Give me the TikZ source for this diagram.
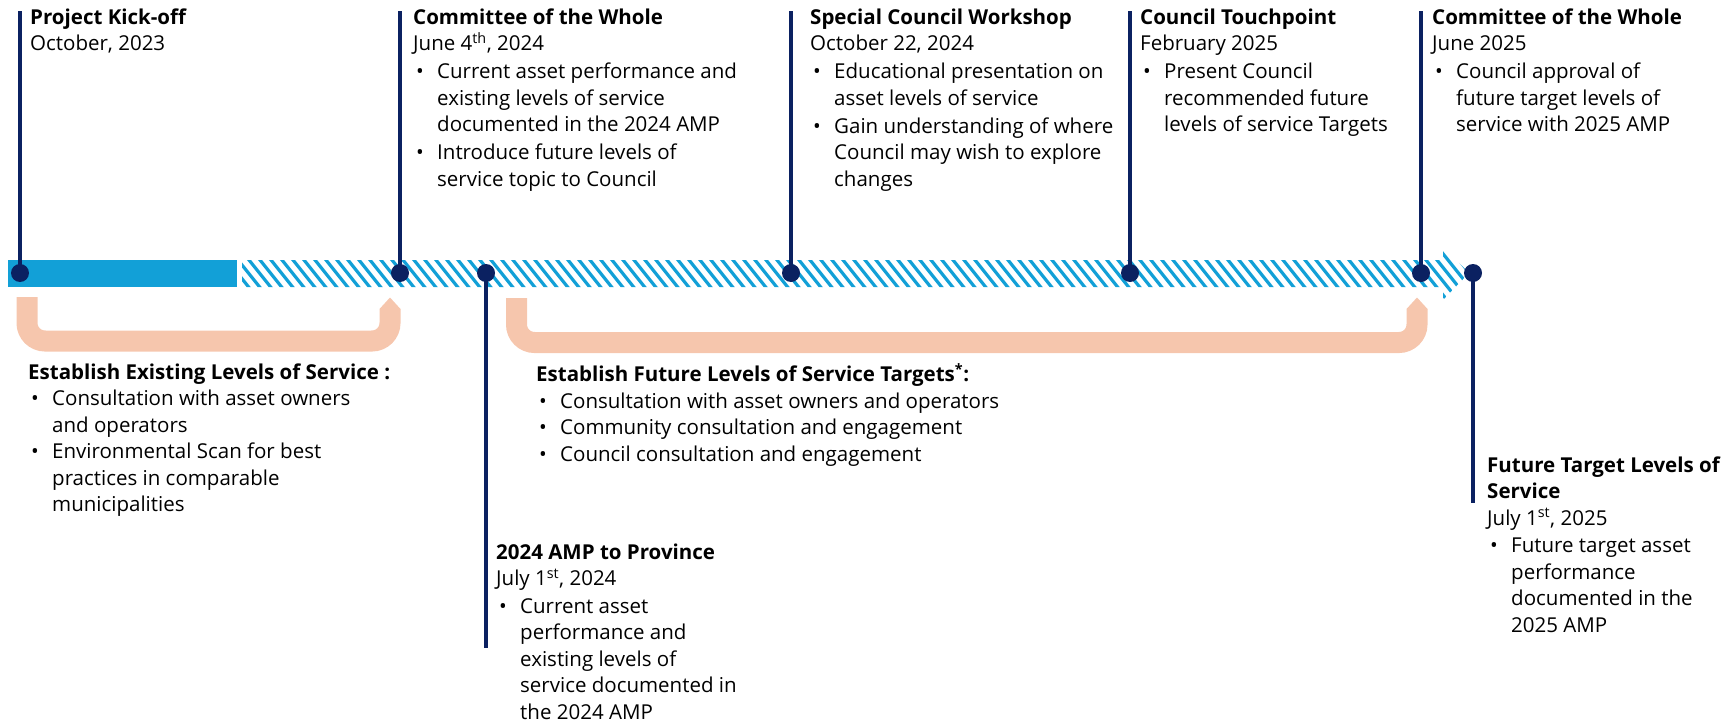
\documentclass[tikz,border=0pt]{standalone}
\usepackage{fontspec}
\setmainfont{Open Sans}
\definecolor{navy}{HTML}{0B2161}
\definecolor{barblue}{HTML}{12A0D7}
\definecolor{peach}{HTML}{F6C6AD}
\newcommand{\bl}{\makebox[24pt][l]{\hspace{3pt}\textbullet}}
\newcommand{\ind}{\hspace*{24pt}}
\newcommand{\fr}{\rule{0pt}{16pt}}
\tikzset{
  txt/.style={anchor=north west, inner sep=0pt, align=left, font=\fontsize{20.5}{26.5}\selectfont, text=black},
  dot/.style={circle, fill=navy, inner sep=0pt, minimum size=18pt},
  stem/.style={draw=navy, line width=3.6pt},
  bracket/.style={draw=peach, line width=21pt, rounded corners=18pt},
  tipfill/.style={fill=peach},
  stripe/.style={draw=barblue, line width=3.2pt}
}
\begin{document}
\begin{tikzpicture}[x=1pt,y=-1pt]
\useasboundingbox (0,0) rectangle (1733,725);
% solid bar
\fill[barblue] (8,260) rectangle (237,287);
% hatched bar with arrow
\begin{scope}
\clip (242,260) -- (1443,260) -- (1443,247) -- (1469,273) -- (1443,300) -- (1443,287) -- (242,287) -- cycle;
\foreach \x in {200,211,...,1480} \draw[stripe] (\x,240) -- (\x+56,310);
\end{scope}
% brackets
\draw[bracket] (27,297) -- (27,341) -- (390,341) -- (390,309);
\fill[tipfill] (379.5,309) -- (390,297.5) -- (400.5,309) -- cycle;
\draw[bracket] (516.5,298) -- (516.5,342.5) -- (1417,342.5) -- (1417,309);
\fill[tipfill] (1406.5,309) -- (1417,297.5) -- (1427.5,309) -- cycle;
% dots
\node[dot] (d1) at (20,273) {};
\node[dot] (d2) at (400,273) {};
\node[dot] (d3) at (486,273) {};
\node[dot] (d4) at (791,273) {};
\node[dot] (d5) at (1130,273) {};
\node[dot] (d6) at (1421,273) {};
\node[dot] (d7) at (1473,273) {};
% stem ends
\coordinate (e1) at (20,11);
\coordinate (e2) at (400,11);
\coordinate (e3) at (486,648);
\coordinate (e4) at (791,11);
\coordinate (e5) at (1130,11);
\coordinate (e6) at (1421,11);
\coordinate (e7) at (1473,503);
\foreach \i in {1,...,7} \draw[stem] (d\i.center) -- (e\i);
% texts
\node[txt] (t1) at (30,8) {\fr\textbf{Project Kick-off}\\October, 2023};
\node[txt] (t2) at (413,8) {\fr\textbf{Committee of the Whole}\\June 4\textsuperscript{th}, 2024\\[1.5pt]
\bl Current asset performance and\\\ind existing levels of service\\\ind documented in the 2024 AMP\\[1.5pt]
\bl Introduce future levels of\\\ind service topic to Council};
\node[txt] (t3) at (810,8) {\fr\textbf{Special Council Workshop}\\October 22, 2024\\[1.5pt]
\bl Educational presentation on\\\ind asset levels of service\\[1.5pt]
\bl Gain understanding of where\\\ind Council may wish to explore\\\ind changes};
\node[txt] (t4) at (1140,8) {\fr\textbf{Council Touchpoint}\\February 2025\\[1.5pt]
\bl Present Council\\\ind recommended future\\\ind levels of service Targets};
\node[txt] (t5) at (1432,8) {\fr\textbf{Committee of the Whole}\\June 2025\\[1.5pt]
\bl Council approval of\\\ind future target levels of\\\ind service with 2025 AMP};
\node[txt] (t6) at (28,363) {\fr\textbf{Establish Existing Levels of Service :}\\
\bl Consultation with asset owners\\\ind and operators\\
\bl Environmental Scan for best\\\ind practices in comparable\\\ind municipalities};
\node[txt] (t7) at (536,363) {\fr\textbf{Establish Future Levels of Service Targets\textsuperscript{*}:}\\
\bl Consultation with asset owners and operators\\
\bl Community consultation and engagement\\
\bl Council consultation and engagement};
\node[txt] (t8) at (496,543) {\fr\textbf{2024 AMP to Province}\\July 1\textsuperscript{st}, 2024\\[1pt]
\bl Current asset\\\ind performance and\\\ind existing levels of\\\ind service documented in\\\ind the 2024 AMP};
\node[txt] (t9) at (1487,456) {\fr\textbf{Future Target Levels of}\\\textbf{Service}\\July 1\textsuperscript{st}, 2025\\[1pt]
\bl Future target asset\\\ind performance\\\ind documented in the\\\ind 2025 AMP};
\end{tikzpicture}
\end{document}
